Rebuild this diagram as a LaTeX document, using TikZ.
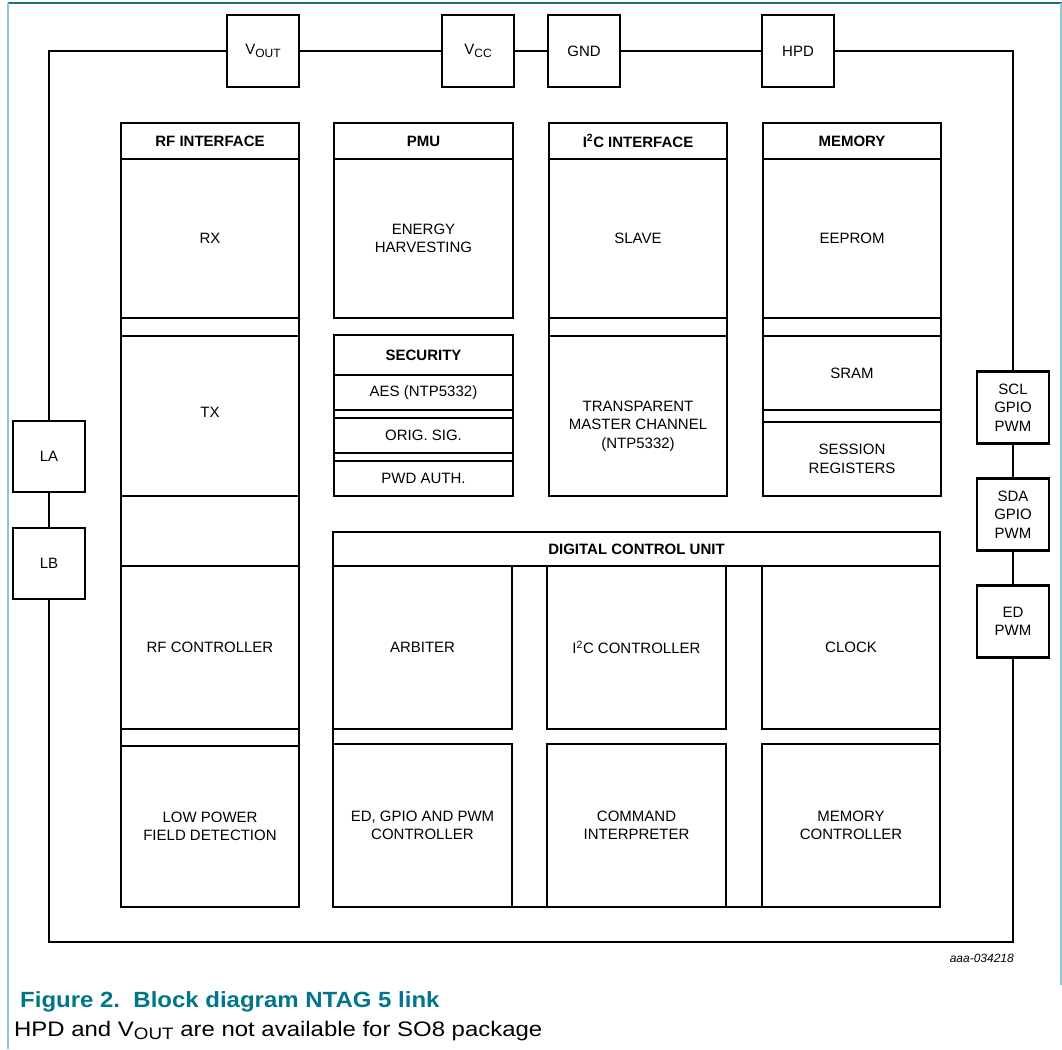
\documentclass[tikz,border=0pt]{standalone}
\usepackage{fontspec}
\setmainfont{Liberation Sans}
\definecolor{capteal}{RGB}{0,118,138}
\definecolor{frametop}{RGB}{30,110,130}
\definecolor{frameside}{RGB}{140,200,215}
\newcommand{\pinsub}[1]{\raisebox{-0.3ex}{\fontsize{12}{12}\selectfont #1}}
\newcommand{\notesub}[1]{\raisebox{-0.3ex}{\fontsize{16.5}{16.5}\selectfont #1}}
\begin{document}
\begin{tikzpicture}[x=1pt,y=-1pt,
  blk/.style={draw, line width=2.2pt, inner sep=0pt, outer sep=0pt, align=center,
    font=\fontsize{15}{18.5}\selectfont},
  hdr/.style={blk, font=\fontsize{15}{18}\selectfont\bfseries},
  pin/.style={blk, minimum width=72pt, minimum height=72pt},
  wire/.style={line width=2.2pt},
  colA/.style={minimum width=178pt},
  colB/.style={minimum width=179pt},
]
\useasboundingbox (0,0) rectangle (1062,1049);
% page frame
\draw[frametop, line width=1.2pt] (8,3) -- (1062,3);
\draw[frameside, line width=1.5pt] (8,3) -- (8,1049);
\draw[frameside, line width=1.5pt] (1061,3) -- (1061,985);

% pins
\node[pin] (vout) at (263,51) {V\pinsub{OUT}};
\node[pin] (vcc)  at (478,51) {V\pinsub{CC}};
\node[pin] (gnd)  at (584,51) {GND};
\node[pin] (hpd)  at (798,51) {HPD};
\node[pin, minimum height=71pt] (la) at (49,456.5) {LA};
\node[pin, minimum height=71pt] (lb) at (49,563.5) {LB};
\node[pin] (scl) at (1013,407.5) {SCL\\GPIO\\PWM};
\node[pin] (sda) at (1013,514.5) {SDA\\GPIO\\PWM};
\node[pin] (ed)  at (1013,621.5) {ED\\PWM};

\coordinate (bl) at (49,942);
\coordinate (br) at (1013,942);

% wires
\draw[wire] (vout.west) -| (la.north);
\draw[wire] (vout.east) -- (vcc.west);
\draw[wire] (vcc.east) -- (gnd.west);
\draw[wire] (gnd.east) -- (hpd.west);
\draw[wire] (hpd.east) -| (scl.north);
\draw[wire] (scl.south) -- (sda.north);
\draw[wire] (sda.south) -- (ed.north);
\draw[wire] (ed.south) -- (br) -- (bl) -- (lb.south);
\draw[wire] (la.south) -- (lb.north);

% RF interface column
\node[hdr, colA, minimum height=36pt]  (rfh)  at (210,141)   {RF INTERFACE};
\node[blk, colA, minimum height=159pt] (rx)   at (210,238.5) {RX};
\node[blk, colA, minimum height=18pt]  (rfs1) at (210,327)   {};
\node[blk, colA, minimum height=160pt, label={[font=\fontsize{15}{18.5}\selectfont, yshift=4pt]center:TX}] (tx) at (210,416) {};
\node[blk, colA, minimum height=70pt]  (rfe)  at (210,531)   {};
\node[blk, colA, minimum height=163pt] (rfc)  at (210,647.5) {RF CONTROLLER};
\node[blk, colA, minimum height=17pt]  (rfs2) at (210,737.5) {};
\node[blk, colA, minimum height=161pt] (lpfd) at (210,826.5) {LOW POWER\\FIELD DETECTION};

% PMU column
\node[hdr, colB, minimum height=36pt]  (pmuh) at (423.5,141)   {PMU};
\node[blk, colB, minimum height=159pt] (eh)   at (423.5,238.5) {ENERGY\\HARVESTING};
\node[hdr, colB, minimum height=40pt]  (sech) at (423.5,355)   {SECURITY};
\node[blk, colB, minimum height=35pt]  (aes)  at (423.5,392.5) {AES (NTP5332)};
\node[blk, colB, minimum height=8pt]   (ss1)  at (423.5,414)   {};
\node[blk, colB, minimum height=35pt]  (orig) at (423.5,435.5) {ORIG. SIG.};
\node[blk, colB, minimum height=8pt]   (ss2)  at (423.5,457)   {};
\node[blk, colB, minimum height=35pt]  (pwd)  at (423.5,478.5) {PWD AUTH.};

% I2C interface column
\node[hdr, colA, minimum height=36pt]  (i2ch)  at (638,141)   {I\textsuperscript{2}C INTERFACE};
\node[blk, colA, minimum height=159pt] (slave) at (638,238.5) {SLAVE};
\node[blk, colA, minimum height=18pt]  (i2cs)  at (638,327)   {};
\node[blk, colA, minimum height=160pt, label={[font=\fontsize{15}{18.5}\selectfont, align=center, yshift=-10pt]center:TRANSPARENT\\MASTER CHANNEL\\(NTP5332)}] (tmc) at (638,416) {};

% Memory column
\node[hdr, colA, minimum height=36pt]  (memh)   at (852,141)   {MEMORY};
\node[blk, colA, minimum height=159pt] (eeprom) at (852,238.5) {EEPROM};
\node[blk, colA, minimum height=18pt]  (ms1)    at (852,327)   {};
\node[blk, colA, minimum height=74pt]  (sram)   at (852,373)   {SRAM};
\node[blk, colA, minimum height=12pt]  (ms2)    at (852,416)   {};
\node[blk, colA, minimum height=74pt]  (sess)   at (852,459)   {SESSION\\REGISTERS};

% Digital control unit
\node[blk, minimum width=607pt, minimum height=375pt] (dcu) at (636.5,719.5) {};
\node[hdr, minimum width=607pt, minimum height=34pt] (dcuh) at (636.5,549) {DIGITAL CONTROL UNIT};
\node[blk, colB, minimum height=163pt] (arb)  at (422.5,647.5) {ARBITER};
\node[blk, colB, minimum height=163pt] (i2cc) at (636.5,647.5) {I\textsuperscript{2}C CONTROLLER};
\node[blk, colA, minimum height=163pt] (clk)  at (851,647.5)   {CLOCK};
\node[blk, colB, minimum height=163pt] (edc)  at (422.5,825.5) {ED, GPIO AND PWM\\CONTROLLER};
\node[blk, colB, minimum height=163pt] (cmd)  at (636.5,825.5) {COMMAND\\INTERPRETER};
\node[blk, colA, minimum height=163pt] (memc) at (851,825.5)   {MEMORY\\CONTROLLER};

% figure id and caption
\node[anchor=base east, inner sep=0pt, font=\fontsize{12}{14}\selectfont\itshape] (fid) at (1014,962) {aaa-034218};
\node[anchor=base west, inner sep=0pt, text=capteal, font=\fontsize{22}{26}\selectfont\bfseries] (cap) at (20,1007) {\scalebox{1.09}[1]{Figure 2.\ \ Block diagram NTAG 5 link}};
\node[anchor=base west, inner sep=0pt, font=\fontsize{21}{25}\selectfont] (note) at (14,1036) {\scalebox{1.14}[1]{HPD and V\notesub{OUT} are not available for SO8 package}};
\end{tikzpicture}
\end{document}
